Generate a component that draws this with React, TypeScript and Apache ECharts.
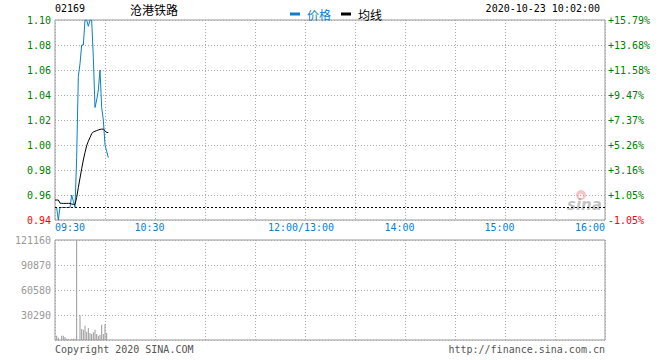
import React, { useEffect, useRef } from 'react';
import * as echarts from 'echarts';

const stockCode = '02169';
const stockName = '沧港铁路';
const dateTime = '2020-10-23 10:02:00';
const preClose = 0.95;

// minutes after 09:30 (HK session: 09:30-12:00, 13:00-16:00 => 330 minutes)
const priceMinutes = [0, 1, 2, 3, 4, 5, 6, 7, 8, 9, 10, 11, 12, 13, 14, 15, 16, 17, 18, 19, 20, 21, 22, 23, 24, 25, 26, 27, 28, 29, 30, 31, 32];
const priceValues = [0.95, 0.95, 0.94, 0.95, 0.95, 0.95, 0.95, 0.95, 0.95, 0.95, 0.96, 0.955, 0.95, 0.99, 1.055, 1.065, 1.08, 1.08, 1.1, 1.1, 1.095, 1.1, 1.1, 1.07, 1.03, 1.036, 1.044, 1.06, 1.03, 1.02, 1.0, 0.995, 0.99];
const avgValues = [0.956, 0.956, 0.956, 0.9535, 0.9533, 0.9533, 0.9533, 0.9533, 0.9533, 0.9533, 0.9528, 0.9525, 0.9525, 0.958, 0.966, 0.9735, 0.981, 0.988, 0.994, 0.9995, 1.003, 1.006, 1.009, 1.0105, 1.011, 1.0115, 1.012, 1.0125, 1.0127, 1.0127, 1.0115, 1.01, 1.01];

const volumeMinutes = [1, 2, 4, 5, 6, 7, 8, 10, 11, 12, 13, 15, 16, 17, 18, 19, 20, 21, 22, 23, 24, 25, 26, 27, 28, 29, 30, 31];
const volumeValues = [5200, 2800, 5200, 5200, 3600, 1600, 1600, 1600, 1600, 1600, 121160, 29900, 13300, 12500, 17300, 10100, 14500, 8500, 7300, 9300, 12500, 7300, 5200, 6400, 18600, 7300, 19400, 8500];

const timeTickMinutes = [0, 60, 150, 210, 270, 330];
const timeTickLabels = ['09:30', '10:30', '12:00/13:00', '14:00', '15:00', '16:00'];
const timeTickStyles = ['first', 'mid', 'noon', 'mid', 'mid', 'last'];

const priceMin = 0.94;
const priceMax = 1.1;
const priceStep = 0.02;
const volumeMax = 121160;
const volumeStep = 30290;

const MONO = '"DejaVu Sans Mono", "Liberation Mono", monospace';
const CJK = '"Noto Sans CJK SC", sans-serif';
const BLUE = '#0a7fcc';
const GREEN = '#008000';
const RED = '#ff0000';
const GRID_LINE = { show: true, lineStyle: { color: '#aaaaaa', type: [1, 2] as any, width: 1 } };

export default function App() {
  const ref = useRef<HTMLDivElement>(null);
  useEffect(() => {
    document.body.style.margin = '0';
    if (!ref.current) return;
    const chart = echarts.init(ref.current, null, { renderer: 'svg' });

    const timeFormatter = (v: number) => {
      const i = timeTickMinutes.indexOf(Math.round(v));
      if (i < 0) return '';
      return `{${timeTickStyles[i]}|${timeTickLabels[i]}}`;
    };

    const pricePoints = priceMinutes.map((m, i) => [m, priceValues[i]]);
    const avgPoints = priceMinutes.map((m, i) => [m, avgValues[i]]);
    const volumePoints = volumeMinutes.map((m, i) => [m, volumeValues[i]]);

    const option: any = {
      animation: false,
      backgroundColor: '#ffffff',
      legend: {
        left: 285,
        top: 3,
        itemWidth: 10,
        itemHeight: 3,
        itemGap: 10,
        icon: 'rect',
        textStyle: { fontFamily: CJK, fontSize: 12, padding: [0, 0, 0, 2] },
        data: [
          { name: '价格', textStyle: { color: BLUE } },
          { name: '均线', textStyle: { color: '#000000' } },
        ],
        selectedMode: false,
      },
      grid: [
        { left: 55, top: 20, width: 550, height: 200, show: true, borderColor: '#999999', borderWidth: 1 },
        { left: 55, top: 240, width: 550, height: 100, show: true, borderColor: '#999999', borderWidth: 1 },
      ],
      xAxis: [
        {
          type: 'value', gridIndex: 0, min: 0, max: 330, interval: 30,
          axisLine: { show: false }, axisTick: { show: false },
          splitLine: GRID_LINE,
          axisLabel: {
            show: true, margin: 2, formatter: timeFormatter, showMinLabel: true, showMaxLabel: true, hideOverlap: false,
            rich: {
              first: { color: BLUE, fontFamily: MONO, fontSize: 10, padding: [0, 0, 0, 30] },
              mid: { color: BLUE, fontFamily: MONO, fontSize: 10, padding: [0, 11, 0, 0] },
              noon: { color: BLUE, fontFamily: MONO, fontSize: 10, padding: [0, 8, 0, 0] },
              last: { color: BLUE, fontFamily: MONO, fontSize: 10, padding: [0, 30, 0, 0] },
            },
          },
        },
        {
          type: 'value', gridIndex: 1, min: 0, max: 330, interval: 30,
          axisLine: { show: false }, axisTick: { show: false }, axisLabel: { show: false },
          splitLine: GRID_LINE,
        },
      ],
      yAxis: [
        {
          type: 'value', gridIndex: 0, position: 'left', min: priceMin, max: priceMax, interval: priceStep,
          axisLine: { show: false }, axisTick: { show: false },
          splitLine: GRID_LINE,
          axisLabel: {
            margin: 4, fontFamily: MONO, fontSize: 10, padding: [0, 0, 5, 0],
            formatter: (v: number) => v.toFixed(2),
            color: (v: any) => (Number(v) < preClose - 1e-6 ? RED : GREEN),
          },
        },
        {
          type: 'value', gridIndex: 0, position: 'right', min: priceMin, max: priceMax, interval: priceStep,
          axisLine: { show: false }, axisTick: { show: false }, splitLine: { show: false },
          axisLabel: {
            margin: 3, fontFamily: MONO, fontSize: 10, padding: [0, 0, 5, 0],
            formatter: (v: number) => {
              const p = (v / preClose - 1) * 100;
              return (p >= 0 ? '+' : '') + p.toFixed(2) + '%';
            },
            color: (v: any) => (Number(v) < preClose - 1e-6 ? RED : GREEN),
          },
        },
        {
          type: 'value', gridIndex: 1, position: 'left', min: 0, max: volumeMax, interval: volumeStep,
          axisLine: { show: false }, axisTick: { show: false },
          splitLine: GRID_LINE,
          axisLabel: {
            margin: 4, fontFamily: MONO, fontSize: 10, color: '#999999', padding: [0, 0, 5, 0],
            showMinLabel: false,
            formatter: (v: number) => String(Math.round(v)),
          },
        },
      ],
      series: [
        {
          name: '价格', type: 'line', xAxisIndex: 0, yAxisIndex: 0, data: pricePoints,
          showSymbol: false, symbol: 'none', lineStyle: { color: BLUE, width: 1 }, itemStyle: { color: BLUE },
          markLine: {
            silent: true, symbol: ['none', 'none'], label: { show: false },
            lineStyle: { color: '#000000', type: [2, 2], width: 1 },
            data: [{ yAxis: preClose }],
          },
        },
        {
          name: '均线', type: 'line', xAxisIndex: 0, yAxisIndex: 0, data: avgPoints,
          showSymbol: false, symbol: 'none', lineStyle: { color: '#000000', width: 1 }, itemStyle: { color: '#000000' },
        },
        {
          name: '成交量', type: 'bar', xAxisIndex: 1, yAxisIndex: 2, data: volumePoints,
          barWidth: 1, itemStyle: { color: '#999999' },
        },
      ],
      graphic: [
        { type: 'text', x: 55, y: 8, style: { text: stockCode, fill: '#000', font: `10px ${MONO}`, verticalAlign: 'middle' } },
        { type: 'text', x: 130, y: 9, style: { text: stockName, fill: '#000', font: `12px ${CJK}`, verticalAlign: 'middle' } },
        { type: 'text', x: 600, y: 8, style: { text: dateTime, fill: '#000', font: `10px ${MONO}`, align: 'right', verticalAlign: 'middle' } },
        { type: 'text', x: 55, y: 349, style: { text: 'Copyright 2020 SINA.COM', fill: '#555', font: `10px ${MONO}`, verticalAlign: 'middle' } },
        { type: 'text', x: 605, y: 349, style: { text: 'http://finance.sina.com.cn', fill: '#555', font: `10px ${MONO}`, align: 'right', verticalAlign: 'middle' } },
        {
          type: 'group', x: 567, y: 190, silent: true,
          children: [
            { type: 'circle', shape: { cx: 14, cy: 5, r: 5 }, style: { fill: 'rgba(230,90,90,0.35)' } },
            { type: 'circle', shape: { cx: 14, cy: 6, r: 2.2 }, style: { fill: 'rgba(255,255,255,0.8)' } },
            { type: 'text', x: 0, y: 7, style: { text: 'sina', fill: 'rgba(120,120,120,0.45)', font: `italic bold 15px "DejaVu Sans", sans-serif` } },
          ],
        },
      ],
    };

    chart.setOption(option);
    return () => chart.dispose();
  }, []);
  return <div ref={ref} style={{ width: 660, height: 360 }} />;
}
